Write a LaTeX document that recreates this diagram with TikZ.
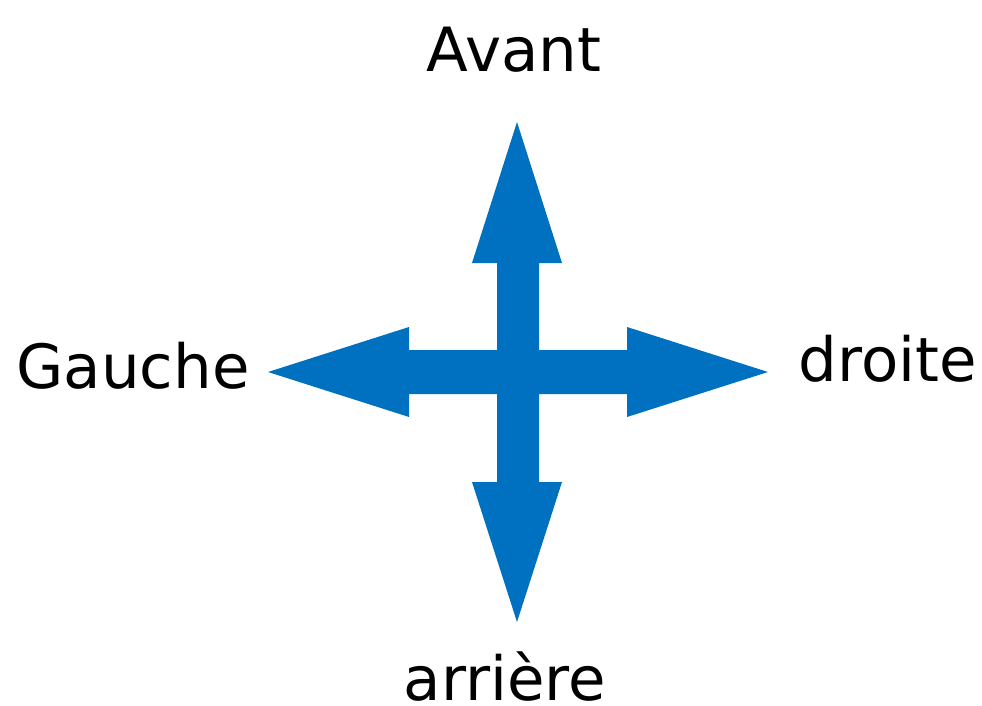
\documentclass[tikz,border=0pt]{standalone}
\usepackage{fontspec}
\setmainfont{DejaVu Sans}
\definecolor{arrowblue}{HTML}{0070C0}
\begin{document}
\begin{tikzpicture}[x=1pt,y=-1pt,
  lbl/.style={font=\fontsize{61}{63}\selectfont, inner sep=0pt, anchor=base}]
\useasboundingbox (0,0) rectangle (982,706);
\fill[arrowblue] (517,122) -- (562,263) -- (539,263) -- (539,350) -- (627,350) -- (627,327)
  -- (768,372) -- (627,417) -- (627,394) -- (539,394) -- (539,482) -- (562,482)
  -- (517,622) -- (472,482) -- (497,482) -- (497,394) -- (409,394) -- (409,417)
  -- (268,372) -- (409,327) -- (409,350) -- (497,350) -- (497,263) -- (472,263) -- cycle;
\node[lbl] (avant) at (514,72) {Avant};
\node[lbl] (arriere) at (505,700) {arrière};
\node[lbl] (gauche) at (133,388) {Gauche};
\node[lbl] (droite) at (888,381) {droite};
\end{tikzpicture}
\end{document}
